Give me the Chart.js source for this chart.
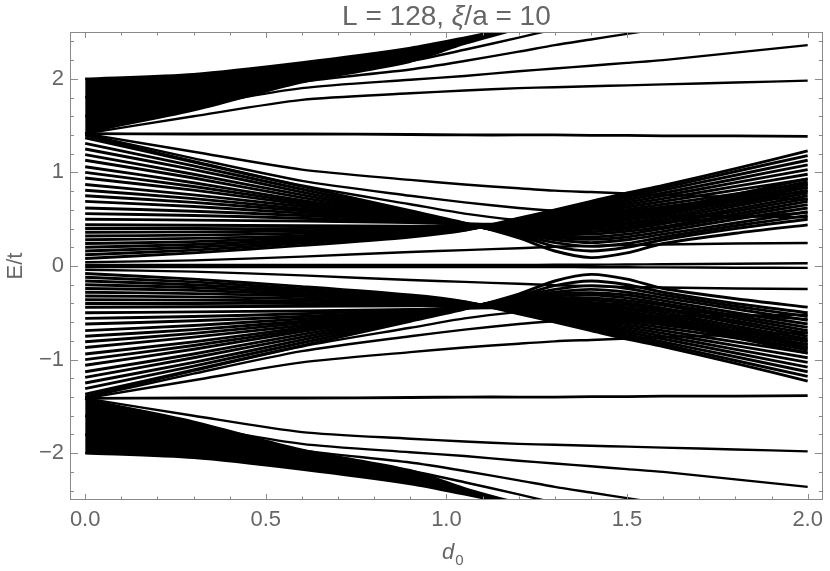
<!DOCTYPE html>
<html>
<head>
<meta charset="utf-8">
<script src="https://cdn.jsdelivr.net/npm/chart.js@4.4.1/dist/chart.umd.min.js"></script>
<style>
  body { margin: 0; background: #fff; }
  #wrap { width: 830px; height: 571px; }
</style>
</head>
<body>
<div id="wrap"><canvas id="spectrum" width="830" height="571"></canvas></div>
<script>
// d0 sample points shared by every level
const d0 = [0, 0.3, 0.6, 0.9, 1.05, 1.2, 1.3, 1.4, 1.5, 1.6, 1.8, 2.0];

// outer band above +sqrt2 (last entry is the top edge of the dense fan)
const upperBand = [
  [1.414, 1.60, 1.775, 1.845, 1.875, 1.90, 1.91, 1.92, 1.93, 1.94, 1.96, 1.98],
  [1.414, 1.70, 1.90, 1.99, 2.03, 2.08, 2.11, 2.14, 2.17, 2.20, 2.28, 2.36],
  [1.414, 1.78, 1.97, 2.10, 2.19, 2.29, 2.36, 2.42, 2.48, 2.54, 2.66, 2.78],
  [1.414, 1.84, 2.04, 2.19, 2.31, 2.44, 2.53, 2.62, 2.71, 2.80, 2.98, 3.16],
  [1.60, 1.88, 2.06, 2.24, 2.39, 2.54, 2.64, 2.74, 2.84, 2.94, 3.12, 3.32],
  [1.80, 1.96, 2.12, 2.28, 2.41, 2.55, 2.65, 2.75, 2.85, 2.95, 3.13, 3.32],
  [2.00, 2.05, 2.175, 2.33, 2.44, 2.56, 2.65, 2.74, 2.83, 2.92, 3.10, 3.28]
];
const lowerBand = [
  [-1.414, -1.60, -1.775, -1.845, -1.875, -1.90, -1.91, -1.92, -1.93, -1.94, -1.96, -1.98],
  [-1.414, -1.70, -1.90, -1.99, -2.03, -2.08, -2.11, -2.14, -2.17, -2.20, -2.28, -2.36],
  [-1.414, -1.78, -1.97, -2.10, -2.19, -2.29, -2.36, -2.42, -2.48, -2.54, -2.66, -2.78],
  [-1.414, -1.84, -2.04, -2.19, -2.31, -2.44, -2.53, -2.62, -2.71, -2.80, -2.98, -3.16],
  [-1.60, -1.88, -2.06, -2.24, -2.39, -2.54, -2.64, -2.74, -2.84, -2.94, -3.12, -3.32],
  [-1.80, -1.96, -2.12, -2.28, -2.41, -2.55, -2.65, -2.75, -2.85, -2.95, -3.13, -3.32],
  [-2.00, -2.05, -2.175, -2.33, -2.44, -2.56, -2.65, -2.74, -2.83, -2.92, -3.10, -3.28]
];
// lower edge of the solid black part of each outer fan
const upperFanBase = [1.414, 1.65, 1.95, 2.17, 2.36, 2.52, 2.62, 2.72, 2.82, 2.92, 3.10, 3.30];
const lowerFanBase = [-1.414, -1.65, -1.95, -2.17, -2.36, -2.52, -2.62, -2.72, -2.82, -2.92, -3.10, -3.30];

// flat levels at +-sqrt2
const flatLevels = [
  [1.414, 1.41, 1.41, 1.405, 1.40, 1.40, 1.40, 1.395, 1.395, 1.39, 1.39, 1.385],
  [-1.414, -1.41, -1.41, -1.405, -1.40, -1.40, -1.40, -1.395, -1.395, -1.39, -1.39, -1.385]
];

// levels leaving the top/bottom of the middle band
const upperEdge = [
  [1.414, 1.22, 1.03, 0.92, 0.87, 0.83, 0.805, 0.79, 0.775, 0.76, 0.735, 0.71],
  [1.405, 1.15, 0.91, 0.75, 0.68, 0.62, 0.59, 0.565, 0.55, 0.54, 0.53, 0.52],
  [1.395, 1.12, 0.86, 0.66, 0.56, 0.49, 0.46, 0.45, 0.455, 0.47, 0.52, 0.57]
];
const lowerEdge = [
  [-1.414, -1.22, -1.03, -0.92, -0.87, -0.83, -0.805, -0.79, -0.775, -0.76, -0.735, -0.71],
  [-1.405, -1.15, -0.91, -0.75, -0.68, -0.62, -0.59, -0.565, -0.55, -0.54, -0.53, -0.52],
  [-1.395, -1.12, -0.86, -0.66, -0.56, -0.49, -0.46, -0.45, -0.455, -0.47, -0.52, -0.57]
];

// middle band, levels coming down into the waist near d0 = 1.05
const upperFalling = [
  [1.37, 1.11, 0.85, 0.59, 0.46, 0.30, 0.16, 0.09, 0.14, 0.24, 0.35, 0.44],
  [1.31, 1.07, 0.82, 0.575, 0.455, 0.32, 0.21, 0.16, 0.20, 0.28, 0.40, 0.50],
  [1.25, 1.03, 0.79, 0.56, 0.45, 0.33, 0.25, 0.21, 0.24, 0.31, 0.43, 0.54],
  [1.19, 0.98, 0.76, 0.55, 0.445, 0.34, 0.28, 0.25, 0.28, 0.34, 0.46, 0.58],
  [1.13, 0.94, 0.73, 0.54, 0.44, 0.35, 0.30, 0.285, 0.31, 0.37, 0.50, 0.62],
  [1.06, 0.89, 0.70, 0.53, 0.44, 0.36, 0.32, 0.31, 0.34, 0.40, 0.53, 0.655],
  [1.00, 0.85, 0.68, 0.52, 0.44, 0.37, 0.34, 0.34, 0.37, 0.42, 0.555, 0.69],
  [0.94, 0.81, 0.66, 0.51, 0.44, 0.38, 0.36, 0.365, 0.395, 0.45, 0.585, 0.72],
  [0.87, 0.76, 0.635, 0.50, 0.44, 0.39, 0.38, 0.39, 0.42, 0.47, 0.61, 0.75],
  [0.81, 0.72, 0.61, 0.495, 0.44, 0.40, 0.40, 0.41, 0.445, 0.495, 0.64, 0.78],
  [0.75, 0.68, 0.59, 0.49, 0.44, 0.41, 0.415, 0.43, 0.465, 0.52, 0.665, 0.81],
  [0.69, 0.635, 0.565, 0.485, 0.445, 0.42, 0.43, 0.45, 0.49, 0.545, 0.69, 0.84],
  [0.62, 0.585, 0.54, 0.48, 0.445, 0.43, 0.445, 0.47, 0.51, 0.565, 0.715, 0.87],
  [0.56, 0.54, 0.51, 0.47, 0.45, 0.44, 0.46, 0.49, 0.53, 0.585, 0.74, 0.90],
  [0.50, 0.49, 0.48, 0.465, 0.45, 0.45, 0.47, 0.505, 0.55, 0.605, 0.765, 0.93]
];
const lowerFalling = [
  [-1.37, -1.11, -0.85, -0.59, -0.46, -0.30, -0.16, -0.09, -0.14, -0.24, -0.35, -0.44],
  [-1.31, -1.07, -0.82, -0.575, -0.455, -0.32, -0.21, -0.16, -0.20, -0.28, -0.40, -0.50],
  [-1.25, -1.03, -0.79, -0.56, -0.45, -0.33, -0.25, -0.21, -0.24, -0.31, -0.43, -0.54],
  [-1.19, -0.98, -0.76, -0.55, -0.445, -0.34, -0.28, -0.25, -0.28, -0.34, -0.46, -0.58],
  [-1.13, -0.94, -0.73, -0.54, -0.44, -0.35, -0.30, -0.285, -0.31, -0.37, -0.50, -0.62],
  [-1.06, -0.89, -0.70, -0.53, -0.44, -0.36, -0.32, -0.31, -0.34, -0.40, -0.53, -0.655],
  [-1.00, -0.85, -0.68, -0.52, -0.44, -0.37, -0.34, -0.34, -0.37, -0.42, -0.555, -0.69],
  [-0.94, -0.81, -0.66, -0.51, -0.44, -0.38, -0.36, -0.365, -0.395, -0.45, -0.585, -0.72],
  [-0.87, -0.76, -0.635, -0.50, -0.44, -0.39, -0.38, -0.39, -0.42, -0.47, -0.61, -0.75],
  [-0.81, -0.72, -0.61, -0.495, -0.44, -0.40, -0.40, -0.41, -0.445, -0.495, -0.64, -0.78],
  [-0.75, -0.68, -0.59, -0.49, -0.44, -0.41, -0.415, -0.43, -0.465, -0.52, -0.665, -0.81],
  [-0.69, -0.635, -0.565, -0.485, -0.445, -0.42, -0.43, -0.45, -0.49, -0.545, -0.69, -0.84],
  [-0.62, -0.585, -0.54, -0.48, -0.445, -0.43, -0.445, -0.47, -0.51, -0.565, -0.715, -0.87],
  [-0.56, -0.54, -0.51, -0.47, -0.45, -0.44, -0.46, -0.49, -0.53, -0.585, -0.74, -0.90],
  [-0.50, -0.49, -0.48, -0.465, -0.45, -0.45, -0.47, -0.505, -0.55, -0.605, -0.765, -0.93]
];

// middle band, levels rising through the waist and fanning out
const upperRising = [
  [0.08, 0.14, 0.22, 0.31, 0.38, 0.51, 0.60, 0.69, 0.78, 0.86, 1.04, 1.23],
  [0.12, 0.17, 0.245, 0.33, 0.385, 0.50, 0.585, 0.67, 0.755, 0.835, 1.01, 1.18],
  [0.16, 0.20, 0.265, 0.345, 0.39, 0.49, 0.57, 0.65, 0.73, 0.81, 0.97, 1.13],
  [0.20, 0.23, 0.285, 0.36, 0.395, 0.485, 0.555, 0.63, 0.705, 0.78, 0.93, 1.08],
  [0.24, 0.26, 0.305, 0.37, 0.40, 0.48, 0.545, 0.61, 0.68, 0.75, 0.89, 1.03],
  [0.28, 0.295, 0.325, 0.385, 0.405, 0.475, 0.53, 0.59, 0.655, 0.72, 0.85, 0.98],
  [0.32, 0.33, 0.35, 0.395, 0.41, 0.47, 0.52, 0.57, 0.63, 0.69, 0.81, 0.93],
  [0.36, 0.365, 0.375, 0.405, 0.415, 0.465, 0.51, 0.555, 0.605, 0.66, 0.77, 0.88],
  [0.40, 0.40, 0.40, 0.415, 0.42, 0.46, 0.50, 0.54, 0.585, 0.63, 0.735, 0.84],
  [0.44, 0.435, 0.43, 0.425, 0.425, 0.455, 0.49, 0.525, 0.565, 0.605, 0.70, 0.80]
];
const lowerRising = [
  [-0.08, -0.14, -0.22, -0.31, -0.38, -0.51, -0.60, -0.69, -0.78, -0.86, -1.04, -1.23],
  [-0.12, -0.17, -0.245, -0.33, -0.385, -0.50, -0.585, -0.67, -0.755, -0.835, -1.01, -1.18],
  [-0.16, -0.20, -0.265, -0.345, -0.39, -0.49, -0.57, -0.65, -0.73, -0.81, -0.97, -1.13],
  [-0.20, -0.23, -0.285, -0.36, -0.395, -0.485, -0.555, -0.63, -0.705, -0.78, -0.93, -1.08],
  [-0.24, -0.26, -0.305, -0.37, -0.40, -0.48, -0.545, -0.61, -0.68, -0.75, -0.89, -1.03],
  [-0.28, -0.295, -0.325, -0.385, -0.405, -0.475, -0.53, -0.59, -0.655, -0.72, -0.85, -0.98],
  [-0.32, -0.33, -0.35, -0.395, -0.41, -0.47, -0.52, -0.57, -0.63, -0.69, -0.81, -0.93],
  [-0.36, -0.365, -0.375, -0.405, -0.415, -0.465, -0.51, -0.555, -0.605, -0.66, -0.77, -0.88],
  [-0.40, -0.40, -0.40, -0.415, -0.42, -0.46, -0.50, -0.54, -0.585, -0.63, -0.735, -0.84],
  [-0.44, -0.435, -0.43, -0.425, -0.425, -0.455, -0.49, -0.525, -0.565, -0.605, -0.70, -0.80]
];

// levels closest to zero
const innerLevels = [
  [0.04, 0.06, 0.10, 0.15, 0.17, 0.19, 0.205, 0.215, 0.225, 0.23, 0.24, 0.245],
  [0.012, 0.012, 0.012, 0.012, 0.012, 0.012, 0.013, 0.014, 0.016, 0.018, 0.024, 0.03],
  [-0.012, -0.012, -0.012, -0.012, -0.012, -0.012, -0.012, -0.013, -0.014, -0.015, -0.018, -0.02],
  [-0.04, -0.06, -0.10, -0.15, -0.17, -0.19, -0.205, -0.215, -0.225, -0.23, -0.24, -0.245]
];

const xTickValues = [0, 0.5, 1, 1.5, 2];
const yTickValues = [-2, -1, 0, 1, 2];

const textGray = '#666';
const frameGray = '#8a8a8a';
const fontName = '"Liberation Sans", Arial, sans-serif';
const lineW = 2.4;
const bandLineW = 2.9;

let datasets = [];
function addLines(family, width) {
  let first = datasets.length;
  family.forEach(vals => {
    datasets.push({
      data: d0.map((x, i) => ({ x: x, y: vals[i] })),
      borderColor: '#000',
      borderWidth: width,
      pointRadius: 0,
      tension: 0.25,
      fill: false,
      clip: 0
    });
  });
  return first;
}

// invisible base lines of the two solid fans, then the fan levels
let upBase = addLines([upperFanBase], 0);
let lowBase = addLines([lowerFanBase], 0);
let upStart = addLines(upperBand, lineW);
let lowStart = addLines(lowerBand, lineW);
datasets[upStart + 6].fill = upBase;
datasets[upStart + 6].backgroundColor = '#000';
datasets[lowStart + 6].fill = lowBase;
datasets[lowStart + 6].backgroundColor = '#000';
addLines(flatLevels, 2.8);
addLines(upperEdge, lineW);
addLines(lowerEdge, lineW);
addLines(upperFalling, bandLineW);
addLines(lowerFalling, bandLineW);
addLines(upperRising, bandLineW);
addLines(lowerRising, bandLineW);
addLines(innerLevels, lineW);

const frameAndText = {
  id: 'frameAndText',
  afterDraw(chart) {
    const ctx = chart.ctx, a = chart.chartArea;
    const xs = chart.scales.x, ys = chart.scales.y;
    ctx.save();
    ctx.strokeStyle = frameGray;
    ctx.lineWidth = 1;
    ctx.strokeRect(Math.round(a.left) + 0.5, Math.round(a.top) + 0.5,
      Math.round(a.right - a.left) - 1, Math.round(a.bottom - a.top) - 1);
    ctx.beginPath();
    for (let i = 0; i <= 20; i++) {
      let px = Math.round(xs.getPixelForValue(i / 10)) + 0.5;
      let len = i % 5 === 0 ? 6 : 3.5;
      ctx.moveTo(px, a.bottom); ctx.lineTo(px, a.bottom - len);
      ctx.moveTo(px, a.top); ctx.lineTo(px, a.top + len);
    }
    for (let i = -12; i <= 12; i++) {
      let py = Math.round(ys.getPixelForValue(i / 5)) + 0.5;
      let len = i % 5 === 0 ? 8 : 4;
      ctx.moveTo(a.left, py); ctx.lineTo(a.left + len, py);
      ctx.moveTo(a.right, py); ctx.lineTo(a.right - len, py);
    }
    ctx.stroke();

    // title: L = 128, xi/a = 10
    ctx.fillStyle = textGray;
    ctx.textBaseline = 'alphabetic';
    ctx.textAlign = 'left';
    const parts = [['L = 128, ', ''], ['\u03BE', 'italic '], ['/a = 10', '']];
    let total = 0;
    parts.forEach(p => { ctx.font = p[1] + '28px ' + fontName; total += ctx.measureText(p[0]).width; });
    let tx = (a.left + a.right) / 2 - total / 2;
    parts.forEach(p => {
      ctx.font = p[1] + '28px ' + fontName;
      ctx.fillText(p[0], tx, 25);
      tx += ctx.measureText(p[0]).width;
    });

    // x label d0
    ctx.font = 'italic 22px ' + fontName;
    ctx.fillText('d', 442, 559);
    let dw = ctx.measureText('d').width;
    ctx.font = '15px ' + fontName;
    ctx.fillText('0', 442 + dw + 1, 565);

    // y label E/t
    ctx.translate(21.5, (a.top + a.bottom) / 2);
    ctx.rotate(-Math.PI / 2);
    ctx.textAlign = 'center';
    ctx.font = '22px ' + fontName;
    ctx.fillText('E/t', 0, 0);
    ctx.restore();
  }
};

new Chart(document.getElementById('spectrum'), {
  type: 'line',
  data: { datasets: datasets },
  options: {
    responsive: false,
    animation: false,
    events: [],
    layout: { padding: { top: 32, right: 2, bottom: 0, left: 0 } },
    plugins: { legend: { display: false }, tooltip: { enabled: false } },
    scales: {
      x: {
        type: 'linear',
        min: -0.042,
        max: 2.042,
        grid: { display: false, drawTicks: false },
        border: { display: false },
        afterBuildTicks: s => { s.ticks = xTickValues.map(v => ({ value: v })); },
        afterFit: s => { s.height = 71; },
        ticks: {
          padding: 7,
          color: textGray,
          font: { family: fontName, size: 22 },
          maxRotation: 0,
          callback: v => v.toFixed(1)
        }
      },
      y: {
        type: 'linear',
        min: -2.5,
        max: 2.5,
        grid: { display: false, drawTicks: false },
        border: { display: false },
        afterBuildTicks: s => { s.ticks = yTickValues.map(v => ({ value: v })); },
        afterFit: s => { s.width = 70; },
        ticks: {
          padding: 6,
          color: textGray,
          font: { family: fontName, size: 22 },
          callback: v => (v < 0 ? '\u2212' + Math.abs(v) : String(v))
        }
      }
    }
  },
  plugins: [frameAndText]
});
</script>
</body>
</html>
